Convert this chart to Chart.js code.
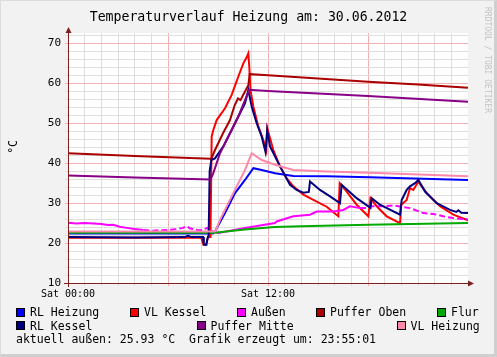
<!DOCTYPE html>
<html><head><meta charset="utf-8">
<script src="https://cdn.jsdelivr.net/npm/chart.js@4.4.1/dist/chart.umd.min.js"></script>
<style>
html,body{margin:0;padding:0;background:#f2f2f2;}
#wrap{position:relative;width:497px;height:357px;overflow:hidden;background:#f2f2f2;font-family:"DejaVu Sans Mono",monospace;color:#000;}
#frame{position:absolute;left:0;top:0;width:497px;height:357px;box-sizing:border-box;border-top:1px solid #dcdcdc;border-left:1px solid #dcdcdc;border-right:3px solid #cfcfcf;border-bottom:3px solid #cfcfcf;pointer-events:none;}
canvas{position:absolute;left:0;top:0;}
.t{position:absolute;white-space:pre;line-height:14px;font-size:11.5px;}
.box{position:absolute;width:7px;height:7px;border:1px solid #000;}
#title{position:absolute;left:0;width:497px;text-align:center;top:9px;font-size:13.2px;line-height:16px;white-space:pre;}
#ylab{position:absolute;left:6px;top:140px;font-size:11.5px;writing-mode:vertical-rl;transform:rotate(180deg);line-height:14px;}
#wm{position:absolute;left:483px;top:7px;font-size:8px;color:#c4c4c4;writing-mode:vertical-rl;white-space:pre;line-height:9px;}
</style></head>
<body>
<div id="wrap">
<canvas id="c" width="497" height="357"></canvas>
<div id="title">Temperaturverlauf Heizung am: 30.06.2012</div>
<div id="ylab">°C</div>
<div id="wm">RRDTOOL / TOBI OETIKER</div>
<div id="legend"></div>
<div class="t" style="left:16px;top:332px;">aktuell außen: 25.93 °C  Grafik erzeugt um: 23:55:01</div>
<div id="frame"></div>
</div>
<script>
// ---- tick labels ----
const xTickHours = [0, 12];
const xTickLabels = ['Sat 00:00', 'Sat 12:00'];
const yTickLabels = [10, 20, 30, 40, 50, 60, 70];

// ---- series (hour of day, °C) ----
const rlHeizungH = [0, 8.7, 8.82, 9.42, 10.02, 10.62, 11.12, 11.62, 12.42, 13.52, 15.5, 18.1, 24];
const rlHeizungV = [22.4, 22.4, 22.9, 27.5, 32.5, 35.8, 38.75, 38.3, 37.5, 36.8, 36.7, 36.5, 35.8];

const vlKesselH = [0, 4, 8.0, 8.12, 8.3, 8.4, 8.55, 8.62, 8.72, 8.92, 9.42, 9.82, 10.22, 10.52, 10.72, 10.82, 10.88, 10.95, 11.12, 11.42, 11.72, 11.9, 11.96, 12.32, 12.72, 13.12, 13.52, 14.12, 14.72, 15.52, 16.22, 16.3, 16.72, 17.32, 18.02, 18.15, 18.52, 19.12, 19.92, 20.0, 20.32, 20.52, 20.72, 21.02, 21.52, 22.32, 23.12, 24];
const vlKesselV = [21.3, 21.3, 21.3, 19.7, 19.6, 21.5, 21.5, 46.7, 48.3, 50.8, 53.75, 57.1, 61.7, 65, 66.5, 67.5, 64, 58.3, 54.2, 49.2, 45.8, 43.3, 48.7, 43.3, 39.2, 36.2, 34.2, 32.1, 30.8, 29.1, 26.7, 35, 32.9, 29.6, 26.7, 31.25, 29.2, 26.7, 25, 29.6, 30.8, 33.75, 33.3, 35.4, 32.5, 29.2, 27.1, 25.7];

const aussenH = [0, 0.5, 1.0, 1.52, 2.0, 2.4, 2.72, 3.1, 3.52, 4.0, 4.52, 5.0, 5.52, 6.0, 6.52, 6.9, 7.12, 7.3, 7.52, 7.8, 8.12, 8.34, 8.6, 9.02, 10.62, 12.42, 12.52, 13.52, 14.52, 14.92, 15.52, 15.92, 16.52, 16.92, 17.52, 17.92, 18.12, 18.92, 19.52, 20.52, 21.32, 21.92, 22.52, 23.12, 24];
const aussenV = [25.1, 24.9, 25.0, 24.9, 24.8, 24.5, 24.6, 24.1, 23.8, 23.5, 23.3, 23.1, 23.2, 23.3, 23.5, 23.8, 24.2, 23.7, 23.5, 23.2, 23.3, 23.8, 23.0, 22.5, 23.75, 25.0, 25.4, 26.7, 27.1, 27.9, 27.9, 27.9, 28.3, 29.2, 28.75, 28.75, 29.2, 29.2, 29.4, 28.75, 27.5, 27.3, 26.7, 26.25, 25.93];

const pufferObenH = [0, 4, 8.55, 8.62, 8.82, 9.3, 9.72, 10.0, 10.2, 10.35, 10.5, 10.82, 10.9, 12, 15, 18, 21, 24];
const pufferObenV = [42.5, 41.8, 41.1, 41.3, 43.3, 47.5, 50.8, 54.5, 56.2, 55.8, 57.0, 59.5, 62.3, 62.0, 61.2, 60.4, 59.7, 58.9];

const flurH = [0, 8.8, 10.6, 12.4, 14, 18, 24];
const flurV = [22.6, 22.6, 23.4, 24.0, 24.2, 24.6, 25.0];

const rlKesselH = [0, 4, 7.0, 7.2, 7.4, 8.1, 8.15, 8.3, 8.36, 8.44, 8.5, 8.6, 8.82, 9.32, 9.82, 10.22, 10.62, 10.82, 11.02, 11.32, 11.62, 11.85, 11.95, 12.12, 12.72, 13.32, 13.72, 14.12, 14.45, 14.52, 15.12, 15.72, 16.32, 16.42, 17.32, 18.02, 18.15, 18.22, 18.72, 19.92, 20.02, 20.32, 20.52, 20.82, 21.02, 21.42, 22.12, 22.92, 23.3, 23.42, 23.6, 24];
const rlKesselV = [21.5, 21.4, 21.5, 21.8, 21.5, 21.5, 19.6, 19.6, 21.0, 22.0, 38.0, 40.8, 41.2, 44.2, 48.3, 51.7, 55.0, 58.3, 54.2, 50.0, 46.7, 42.8, 48.3, 44.2, 39.2, 34.6, 33.3, 32.6, 32.8, 35.4, 33.3, 31.7, 30.0, 34.6, 31.25, 29.2, 28.8, 31.25, 29.6, 27.1, 30.8, 33.3, 34.2, 35.0, 35.8, 32.9, 30.0, 28.3, 27.8, 28.2, 27.6, 27.5];

const pufferMitteH = [0, 4, 8.55, 8.72, 9.12, 9.72, 10.22, 10.62, 10.88, 12, 18, 24];
const pufferMitteV = [36.9, 36.4, 35.9, 37.5, 42.5, 47.5, 51.7, 55.8, 58.4, 58.1, 56.8, 55.4];

const vlHeizungH = [0, 8.75, 8.85, 9.12, 9.62, 10.12, 10.62, 11.02, 11.62, 12.42, 13.52, 15.52, 18.12, 24];
const vlHeizungV = [22.9, 22.9, 23.0, 25.8, 30, 34.2, 38.3, 42.5, 40.8, 39.6, 38.3, 37.9, 37.6, 36.7];

// ---- series definitions (RRD drawing order) ----
const series = [
  {label: 'RL Heizung', h: rlHeizungH, v: rlHeizungV, color: '#0000ff', box: [16, 307.5], text: [30, 305]},
  {label: 'VL Kessel', h: vlKesselH, v: vlKesselV, color: '#ff0000', box: [130, 307.5], text: [144, 305]},
  {label: 'Außen', h: aussenH, v: aussenV, color: '#ff00ff', box: [237, 307.5], text: [251, 305], dashed: true},
  {label: 'Puffer Oben', h: pufferObenH, v: pufferObenV, color: '#aa0000', box: [316, 307.5], text: [330, 305]},
  {label: 'Flur', h: flurH, v: flurV, color: '#00aa00', box: [437, 307.5], text: [451, 305]},
  {label: 'RL Kessel', h: rlKesselH, v: rlKesselV, color: '#000080', box: [16, 321], text: [30, 318.5]},
  {label: 'Puffer Mitte', h: pufferMitteH, v: pufferMitteV, color: '#880088', box: [197, 321], text: [210.5, 318.5]},
  {label: 'VL Heizung', h: vlHeizungH, v: vlHeizungV, color: '#ff88aa', box: [397, 321], text: [410.5, 318.5]}
];

// legend (HTML text)
const lg = document.getElementById('legend');
series.forEach(s => {
  const b = document.createElement('div');
  b.className = 'box'; b.style.left = s.box[0] + 'px'; b.style.top = s.box[1] + 'px'; b.style.background = s.color;
  lg.appendChild(b);
  const t = document.createElement('div');
  t.className = 't'; t.style.left = s.text[0] + 'px'; t.style.top = s.text[1] + 'px'; t.textContent = s.label;
  lg.appendChild(t);
});

const minorGrid = '#dedede';
const majorGrid = '#f2b0b0';
const axisColor = '#7f1f1f';
const FONT = '"DejaVu Sans Mono", monospace';

const datasets = series.map(s => ({
  label: s.label,
  data: s.h.map((h, i) => ({x: h, y: s.v[i]})),
  borderColor: s.color,
  backgroundColor: s.color,
  borderWidth: 2,
  pointRadius: 0,
  tension: 0,
  fill: false,
  segment: s.dashed ? {borderDash: ctx => ((ctx.p0.parsed.x >= 4.5 && ctx.p0.parsed.x < 8.6) || ctx.p0.parsed.x >= 17.5) ? [6, 3] : undefined} : undefined
})).reverse(); // first dataset drawn on top -> reverse RRD order

const framePlugin = {
  id: 'rrdFrame',
  beforeDraw(chart) {
    const {ctx, chartArea: a} = chart;
    ctx.save();
    ctx.fillStyle = '#ffffff';
    ctx.fillRect(a.left, a.top, a.right - a.left, a.bottom - a.top);
    ctx.restore();
  },
  afterDatasetsDraw(chart) {
    const {ctx, chartArea: a} = chart;
    const yb = Math.round(a.bottom) + 0.5;
    const xl = Math.round(a.left) + 0.5;
    ctx.save();
    ctx.strokeStyle = axisColor;
    ctx.fillStyle = axisColor;
    ctx.lineWidth = 1;
    ctx.beginPath();
    ctx.moveTo(a.left - 4, yb); ctx.lineTo(a.right + 2, yb);
    ctx.moveTo(xl, a.bottom + 4); ctx.lineTo(xl, a.top - 2);
    ctx.stroke();
    // arrows
    ctx.beginPath();
    ctx.moveTo(a.right + 6, yb); ctx.lineTo(a.right, yb - 3); ctx.lineTo(a.right, yb + 3); ctx.closePath();
    ctx.fill();
    ctx.beginPath();
    ctx.moveTo(xl, a.top - 6); ctx.lineTo(xl - 3, a.top); ctx.lineTo(xl + 3, a.top); ctx.closePath();
    ctx.fill();
    ctx.restore();
  }
};

new Chart(document.getElementById('c'), {
  type: 'line',
  data: {datasets},
  plugins: [framePlugin],
  options: {
    responsive: false,
    animation: false,
    devicePixelRatio: 1,
    layout: {padding: {top: 33, right: 29, left: 0, bottom: 0}},
    plugins: {legend: {display: false}, tooltip: {enabled: false}, title: {display: false}},
    scales: {
      x: {
        type: 'linear', min: 0, max: 24,
        afterFit: s => { s.height = 74; },
        border: {display: false},
        grid: {
          color: c => (c.tick.value === 24 || c.tick.value === 0) ? 'rgba(0,0,0,0)' : (c.tick.value % 6 === 0 ? majorGrid : minorGrid),
          tickLength: 3, drawTicks: true
        },
        ticks: {
          stepSize: 1, autoSkip: false, maxRotation: 0, minRotation: 0, includeBounds: false, maxTicksLimit: 100,
          padding: 2, color: '#000', font: {family: FONT, size: 10},
          callback: v => { const i = xTickHours.indexOf(v); return i >= 0 ? xTickLabels[i] : ''; }
        }
      },
      y: {
        min: 10, max: 72.6,
        afterFit: s => { s.width = 68; },
        border: {display: false},
        grid: {
          color: c => (c.tick.value === 10) ? 'rgba(0,0,0,0)' : (c.tick.value % 10 === 0 ? majorGrid : minorGrid),
          tickLength: 3, drawTicks: true
        },
        ticks: {
          stepSize: 2, autoSkip: false, includeBounds: false, maxTicksLimit: 100,
          padding: 4, color: '#000', font: {family: FONT, size: 11},
          callback: v => yTickLabels.includes(v) ? String(v) : ''
        }
      }
    }
  }
});
</script>
</body></html>
